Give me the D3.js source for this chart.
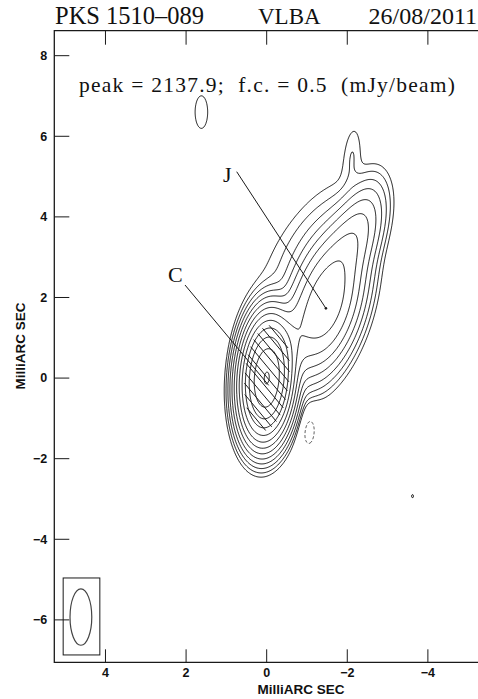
<!DOCTYPE html>
<html>
<head>
<meta charset="utf-8">
<script src="https://cdn.jsdelivr.net/npm/d3@7"></script>
<style>
html,body{margin:0;padding:0;background:#fff;}
svg{display:block;}
</style>
</head>
<body>
<svg id="chart" width="478" height="699"></svg>
<script>
// ---------------- data ----------------
const titleParts = ["PKS 1510\u2013089", "VLBA", "26/08/2011"];
const peakText = "peak = 2137.9;  f.c. = 0.5  (mJy/beam)";
const axisLabel = "MilliARC SEC";
const xTicks = [4, 2, 0, -2, -4];
const yTicks = [8, 6, 4, 2, 0, -2, -4, -6];
const xDomain = [5.27, -5.25];   // mas (RA increases to the left)
const yDomain = [8.62, -7.06];   // mas
// contour levels (mJy/beam): f.c. x 2^k
const levels = [0.5, 1, 2, 4, 8, 16, 32, 64, 128, 256, 512, 1024, 2048];
const negLevels = [-0.5];
// brightness model components:
// position x/y (mas), peak (mJy/beam), major/minor FWHM (mas), PA (deg)
const compName = ["core", "inner jet", "J", "upper jet", "upper jet 2", "diffuse", "spur", "knot N", "knot SW", "negative"];
const compX    = [0,    -0.50, -1.45, -2.00, -2.40, -1.00, -2.12, 1.62, -3.62, -1.04];
const compY    = [0,     0.80,  1.85,  3.20,  3.90,  3.30,  5.55, 6.60, -2.93, -1.23];
const compPeak = [2100,  40,    110,   25,    7,     1.3,   0.9,  0.63,  0.51, -0.63];
const compMaj  = [1.42,  1.40,  1.90,  1.50,  1.40,  2.80,  1.20, 1.40,  0.50,  1.40];
const compMin  = [0.60,  0.70,  0.90,  0.70,  0.65,  1.10,  0.35, 0.54,  0.30,  0.54];
const compPA   = [-4,   -20,   -16,   -22,   -15,   -34,   -5,    0,     0,     0];
// restoring beam
const beam = {x: 4.61, y: -5.93, maj: 1.40, min: 0.54, pa: 0};
const beamBox = {x0: 5.05, x1: 4.14, y0: -4.96, y1: -6.87};
// component labels and the map positions they point at (mas)
const labelText = ["J", "C"];
const labelTargetX = [-1.47, -0.05];
const labelTargetY = [1.73, -0.18];
const hatchLevel = 200;

// ---------------- layout ----------------
const mL = 54.3, mT = 30.7, mR = 478.5, mB = 662.3;
const svg = d3.select("#chart");
const x = d3.scaleLinear().domain(xDomain).range([mL, mL + (xDomain[0]-xDomain[1])*40.3]);
const y = d3.scaleLinear().domain(yDomain).range([mT, mT + (yDomain[0]-yDomain[1])*40.3]);

const ink = "#1a1a1a";

// ---------------- field ----------------
const W = Math.ceil(mR - mL), H = Math.ceil(mB - mT);
const comps = compX.map((cx, i) => ({
  x: cx, y: compY[i], a: compPeak[i], maj: compMaj[i], min: compMin[i], pa: compPA[i]*Math.PI/180
}));
const kk = 4*Math.LN2;
function brightness(mx, my, list) {
  let v = 0;
  for (const c of list) {
    const dx = mx - c.x, dy = my - c.y;
    const s = Math.sin(c.pa), co = Math.cos(c.pa);
    const u = dx*s + dy*co, w = dx*co - dy*s;
    v += c.a*Math.exp(-kk*(u*u/(c.maj*c.maj) + w*w/(c.min*c.min)));
  }
  return v;
}
const field = new Float64Array(W*H);
for (let j = 0; j < H; j++) {
  const my = y.invert(mT + j + 0.5);
  for (let i = 0; i < W; i++) {
    field[j*W + i] = brightness(x.invert(mL + i + 0.5), my, comps);
  }
}
const proj = d3.geoIdentity().translate([mL, mT]);
const path = d3.geoPath(proj);

svg.append("clipPath").attr("id","frameClip").append("rect")
  .attr("x", mL).attr("y", mT).attr("width", mR-mL).attr("height", mB-mT);

const g = svg.append("g").attr("clip-path","url(#frameClip)");
const contours = d3.contours().size([W, H]).smooth(true).thresholds(levels)(Array.from(field));
g.selectAll("path.pos").data(contours).join("path").attr("class","pos")
  .attr("d", path).attr("fill","none").attr("stroke", ink).attr("stroke-width", 1);

const negField = Array.from(field, v => -v);
const negContours = d3.contours().size([W, H]).thresholds(negLevels.map(v => -v))(negField);
g.selectAll("path.neg").data(negContours).join("path").attr("class","neg")
  .attr("d", path).attr("fill","none").attr("stroke", "#555").attr("stroke-width", 1)
  .attr("stroke-dasharray","3,2");

// hatching across the bright core: segments where the map exceeds hatchLevel
const hx = x(0) + 5, hy = y(0) - 6;
const ang = Math.atan(1.2);
const hux = Math.cos(ang), huy = Math.sin(ang);
let hd = "";
for (let t = -70; t <= 70; t += 7) {
  const ox = hx - huy*t, oy = hy + hux*t;
  let start = null, prev = null;
  for (let s = -150; s <= 150; s += 0.5) {
    const px = ox + hux*s, py = oy + huy*s;
    const inside = brightness(x.invert(px), y.invert(py), comps) >= hatchLevel;
    if (inside && start === null) start = [px, py];
    if (!inside && start !== null) { hd += `M${start[0].toFixed(1)},${start[1].toFixed(1)}L${prev[0].toFixed(1)},${prev[1].toFixed(1)}`; start = null; }
    prev = [px, py];
  }
}
svg.append("path").attr("class","hatch").attr("d", hd)
  .attr("fill","none").attr("stroke", ink).attr("stroke-width", 1);

// beam
svg.append("rect").attr("x", x(beamBox.x0)).attr("y", y(beamBox.y0))
  .attr("width", x(beamBox.x1)-x(beamBox.x0)).attr("height", y(beamBox.y1)-y(beamBox.y0))
  .attr("fill","none").attr("stroke", ink).attr("stroke-width",1);
svg.append("ellipse").attr("cx", x(beam.x)).attr("cy", y(beam.y))
  .attr("rx", (x(0)-x(beam.min/2))).attr("ry", (y(0)-y(beam.maj/2)))
  .attr("fill","none").attr("stroke", "#444").attr("stroke-width",1.2);

// frame
svg.append("path").attr("d", `M${mR},${mT}H${mL}V${mB}H${mR}`)
  .attr("fill","none").attr("stroke", ink).attr("stroke-width", 1.3);

// ticks
const sans = "'Liberation Sans', Arial, sans-serif";
xTicks.forEach(t => {
  svg.append("line").attr("x1", x(t)).attr("x2", x(t)).attr("y1", mB).attr("y2", mB-13)
    .attr("stroke", ink).attr("stroke-width",1);
  svg.append("line").attr("x1", x(t)).attr("x2", x(t)).attr("y1", mT).attr("y2", mT+14)
    .attr("stroke", ink).attr("stroke-width",1);
  svg.append("text").attr("x", x(t)).attr("y", mB+15).attr("text-anchor","middle")
    .attr("font-family", sans).attr("font-weight","bold").attr("font-size", 12.5).attr("fill","#111")
    .text(d3.format("d")(t));
});
yTicks.forEach(t => {
  svg.append("line").attr("x1", mL).attr("x2", mL+15).attr("y1", y(t)).attr("y2", y(t))
    .attr("stroke", ink).attr("stroke-width",1);
  svg.append("text").attr("x", mL-7).attr("y", y(t)).attr("dy","0.35em").attr("text-anchor","end")
    .attr("font-family", sans).attr("font-weight","bold").attr("font-size", 12.5).attr("fill","#111")
    .text(d3.format("d")(t));
});
svg.append("text").attr("x", 301).attr("y", 694).attr("text-anchor","middle")
  .attr("font-family", sans).attr("font-weight","bold").attr("font-size", 13.5).attr("fill","#111")
  .text(axisLabel);
svg.append("text").attr("transform","translate(25,346) rotate(-90)").attr("text-anchor","middle")
  .attr("font-family", sans).attr("font-weight","bold").attr("font-size", 13.5).attr("fill","#111")
  .text(axisLabel);

// titles
const serif = "'Liberation Serif', 'Times New Roman', serif";
svg.append("text").attr("x", 55).attr("y", 24).attr("font-family", serif).attr("font-size", 24.5).attr("fill","#111").text(titleParts[0]);
svg.append("text").attr("x", 258).attr("y", 24).attr("font-family", serif).attr("font-size", 23).attr("fill","#111").text(titleParts[1]);
svg.append("text").attr("x", 477).attr("y", 24).attr("text-anchor","end").attr("font-family", serif).attr("font-size", 24).attr("fill","#111").text(titleParts[2]);
svg.append("text").attr("x", 79).attr("y", 92).attr("xml:space","preserve").attr("textLength", 376)
  .attr("font-family", serif).attr("font-size", 21.5).attr("fill","#111").text(peakText);

// component labels
const labelPos = [[223, 182], [168, 282]];
const lineStart = [[236.7, 171.7], [185, 285]];
labelText.forEach((t, i) => {
  svg.append("text").attr("x", labelPos[i][0]).attr("y", labelPos[i][1])
    .attr("font-family", serif).attr("font-size", 22).attr("fill","#111").text(t);
  svg.append("line").attr("x1", lineStart[i][0]).attr("y1", lineStart[i][1])
    .attr("x2", x(labelTargetX[i])).attr("y2", y(labelTargetY[i]))
    .attr("stroke", ink).attr("stroke-width", 1);
});
svg.append("circle").attr("cx", x(labelTargetX[0])).attr("cy", y(labelTargetY[0])).attr("r", 1.3).attr("fill", ink);
</script>
</body>
</html>
